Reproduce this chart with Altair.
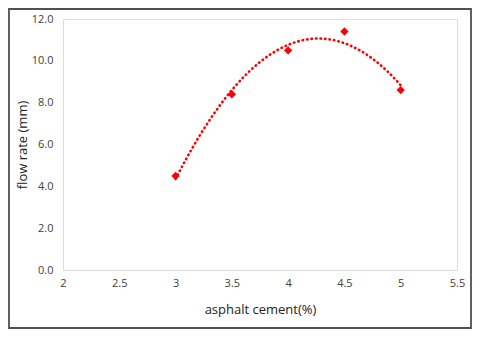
import altair as alt
import pandas as pd

asphalt = [3.0, 3.5, 4.0, 4.5, 5.0]
flow = [4.5, 8.4, 10.5, 11.4, 8.6]
x_ticks = [2, 2.5, 3, 3.5, 4, 4.5, 5, 5.5]
y_ticks = [0, 2, 4, 6, 8, 10, 12]

df = pd.DataFrame({"asphalt": asphalt, "flow": flow})

FONT = "Open Sans"

xs = alt.Scale(domain=[2, 5.5], nice=False, zero=False)
ys = alt.Scale(domain=[0, 12], nice=False)

xax = alt.Axis(values=x_ticks, format="~g", title="asphalt cement(%)", grid=False, ticks=False,
               domain=False, labelFontSize=11, labelPadding=7, titleFontSize=13,
               titleFontWeight="normal", titlePadding=15, labelColor="#404040",
               titleColor="#222222", labelFont=FONT, titleFont=FONT, labelFlush=False)
yax = alt.Axis(values=y_ticks, format=".1f", title="flow rate (mm)", grid=False, ticks=False,
               domain=False, labelFontSize=11, labelPadding=10, titleFontSize=13,
               titleFontWeight="normal", titlePadding=2, labelColor="#404040",
               titleColor="#222222", labelFont=FONT, titleFont=FONT)

base = alt.Chart(df)

trend = base.transform_regression(
    "asphalt", "flow", method="poly", order=2, extent=[3, 5]
).mark_line(color="#ff0000", strokeDash=[0.5, 4], strokeCap="round", strokeWidth=2.6).encode(
    x=alt.X("asphalt:Q", scale=xs, axis=xax),
    y=alt.Y("flow:Q", scale=ys, axis=yax),
)

pts = base.mark_point(shape="diamond", filled=True, color="#ff0000", size=70, opacity=1).encode(
    x=alt.X("asphalt:Q", scale=xs),
    y=alt.Y("flow:Q", scale=ys),
)

frame = alt.Chart(pd.DataFrame({"a": [0]})).mark_rect(
    fill=None, stroke="#505050", strokeWidth=1.8, clip=False
).encode(
    x=alt.value(-54), x2=alt.value(408), y=alt.value(-10), y2=alt.value(309)
)

chart = alt.layer(frame, trend, pts).properties(
    width=394, height=251,
    padding={"left": 55, "top": 11, "right": 15, "bottom": 59},
    autosize=alt.AutoSizeParams(type="none"),
).configure_view(stroke="#404040", strokeWidth=2).configure(background="white")

chart.save("out.html", embed_options={"renderer": "svg", "actions": False})
